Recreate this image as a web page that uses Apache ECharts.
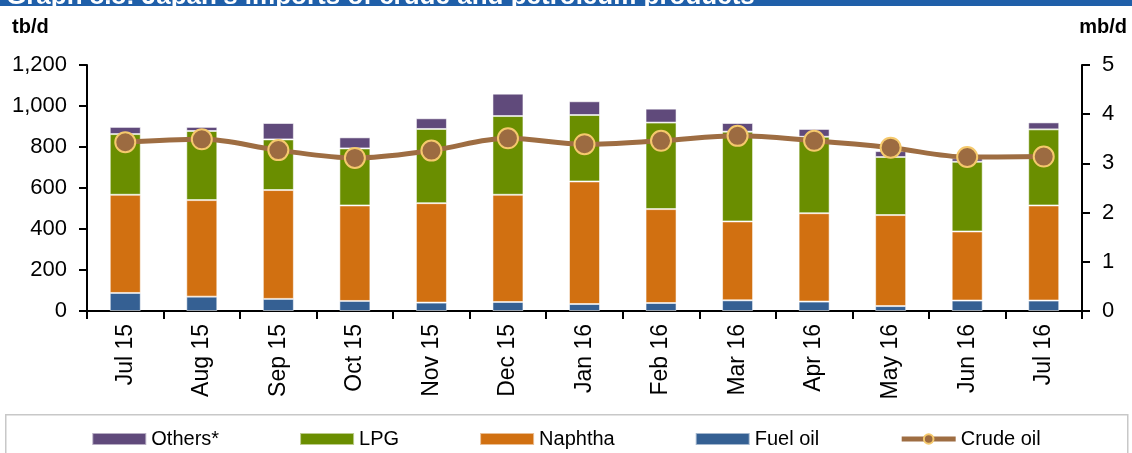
<!DOCTYPE html>
<html>
<head>
<meta charset="utf-8">
<script src="https://cdn.jsdelivr.net/npm/echarts@6/dist/echarts.min.js"></script>
<style>
  html, body { margin: 0; padding: 0; background: #fff; }
  #main { width: 1132px; height: 453px; }
</style>
</head>
<body>
<div id="main"></div>
<script>
// months on the x axis
var months = ["Jul 15", "Aug 15", "Sep 15", "Oct 15", "Nov 15", "Dec 15",
  "Jan 16", "Feb 16", "Mar 16", "Apr 16", "May 16", "Jun 16", "Jul 16"];

// products, tb/d (stacked)
var fuelOil = [88, 70, 59, 49, 41, 44, 34, 39, 52, 46, 24, 51, 51];
var naphtha = [479, 471, 531, 466, 485, 523, 598, 458, 385, 431, 444, 337, 464];
var lpg = [296, 337, 247, 278, 362, 384, 324, 422, 438, 373, 283, 340, 371];
var others = [35, 20, 80, 54, 52, 109, 67, 68, 42, 38, 29, 17, 34];

// crude oil, mb/d (right axis)
var crude = [3.43, 3.49, 3.27, 3.11, 3.26, 3.51, 3.39, 3.46, 3.56, 3.46, 3.32, 3.13, 3.14];

var leftTicks = [0, 1200, 200];
var rightTicks = [0, 5, 1];

var font = "Liberation Sans, Arial, sans-serif";

var myChart = echarts.init(document.getElementById("main"));

function barSeries(name, data, color) {
  return {
    name: name,
    type: "bar",
    stack: "products",
    barWidth: 31,
    data: data,
    itemStyle: {
      color: color,
      borderColor: "rgba(255,255,255,0.55)",
      borderWidth: 1,
    },
  };
}

myChart.setOption({
  animation: false,
  textStyle: { fontFamily: font },
  grid: { left: 87, right: 50, top: 65, bottom: 142 },
  graphic: [
    // header strip, title mostly cut off by the top edge
    { type: "rect", left: 0, top: 0, shape: { width: 1132, height: 6 }, style: { fill: "#1f5fa9" } },
    {
      type: "text", x: 6, y: 10,
      style: {
        text: "Graph 8.8: Japan's imports of crude and petroleum products",
        fill: "#fff", font: "bold 26px " + font, verticalAlign: "bottom",
      },
    },
    { type: "rect", left: 0, top: 6, z: 1, shape: { width: 1132, height: 8 }, style: { fill: "#fff" } },
    { type: "text", x: 12, y: 17, style: { text: "tb/d", fill: "#000", font: "bold 20px " + font } },
    { type: "text", x: 1127, y: 17, style: { text: "mb/d", fill: "#000", font: "bold 20px " + font, align: "right" } },
    // legend frame
    {
      type: "rect", left: 5, top: 414, z: -1,
      shape: { width: 1122, height: 60 },
      style: { fill: "#fff", stroke: "#c8c8c8", lineWidth: 1.5 },
    },
  ],
  legend: {
    left: "center",
    top: 424,
    itemGap: 80,
    itemWidth: 54,
    itemHeight: 12,
    textStyle: { fontSize: 20, color: "#000", fontFamily: font },
    data: [
      { name: "Others*", icon: "rect" },
      { name: "LPG", icon: "rect" },
      { name: "Naphtha", icon: "rect" },
      { name: "Fuel oil", icon: "rect" },
      { name: "Crude oil", lineStyle: { width: 5 } },
    ],
  },
  xAxis: {
    type: "category",
    data: months,
    axisLine: { lineStyle: { color: "#000", width: 2 } },
    axisTick: { show: true, length: 8, lineStyle: { color: "#000", width: 2 } },
    axisLabel: { rotate: 90, margin: 13, fontSize: 23, color: "#000" },
  },
  yAxis: [
    {
      type: "value",
      min: leftTicks[0], max: leftTicks[1], interval: leftTicks[2],
      axisLine: { show: true, lineStyle: { color: "#000", width: 2 } },
      axisTick: { show: true, length: 8, lineStyle: { color: "#000", width: 2 } },
      splitLine: { show: false },
      axisLabel: {
        margin: 20, fontSize: 22, color: "#000",
        formatter: function (v) { return v.toLocaleString("en-US"); },
      },
    },
    {
      type: "value",
      min: rightTicks[0], max: rightTicks[1], interval: rightTicks[2],
      position: "right",
      axisLine: { show: true, lineStyle: { color: "#000", width: 2 } },
      axisTick: { show: true, length: 8, lineStyle: { color: "#000", width: 2 } },
      splitLine: { show: false },
      axisLabel: { margin: 20, fontSize: 22, color: "#000" },
    },
  ],
  series: [
    barSeries("Fuel oil", fuelOil, "#356093"),
    barSeries("Naphtha", naphtha, "#d17011"),
    barSeries("LPG", lpg, "#6a8e00"),
    barSeries("Others*", others, "#604a7b"),
    {
      name: "Crude oil",
      type: "line",
      yAxisIndex: 1,
      data: crude,
      smooth: 0.35,
      symbol: "circle",
      symbolSize: 20,
      lineStyle: { color: "#9e6d42", width: 5 },
      itemStyle: { color: "#9c6b41", borderColor: "#f5c96c", borderWidth: 2 },
      z: 5,
    },
  ],
});
</script>
</body>
</html>
